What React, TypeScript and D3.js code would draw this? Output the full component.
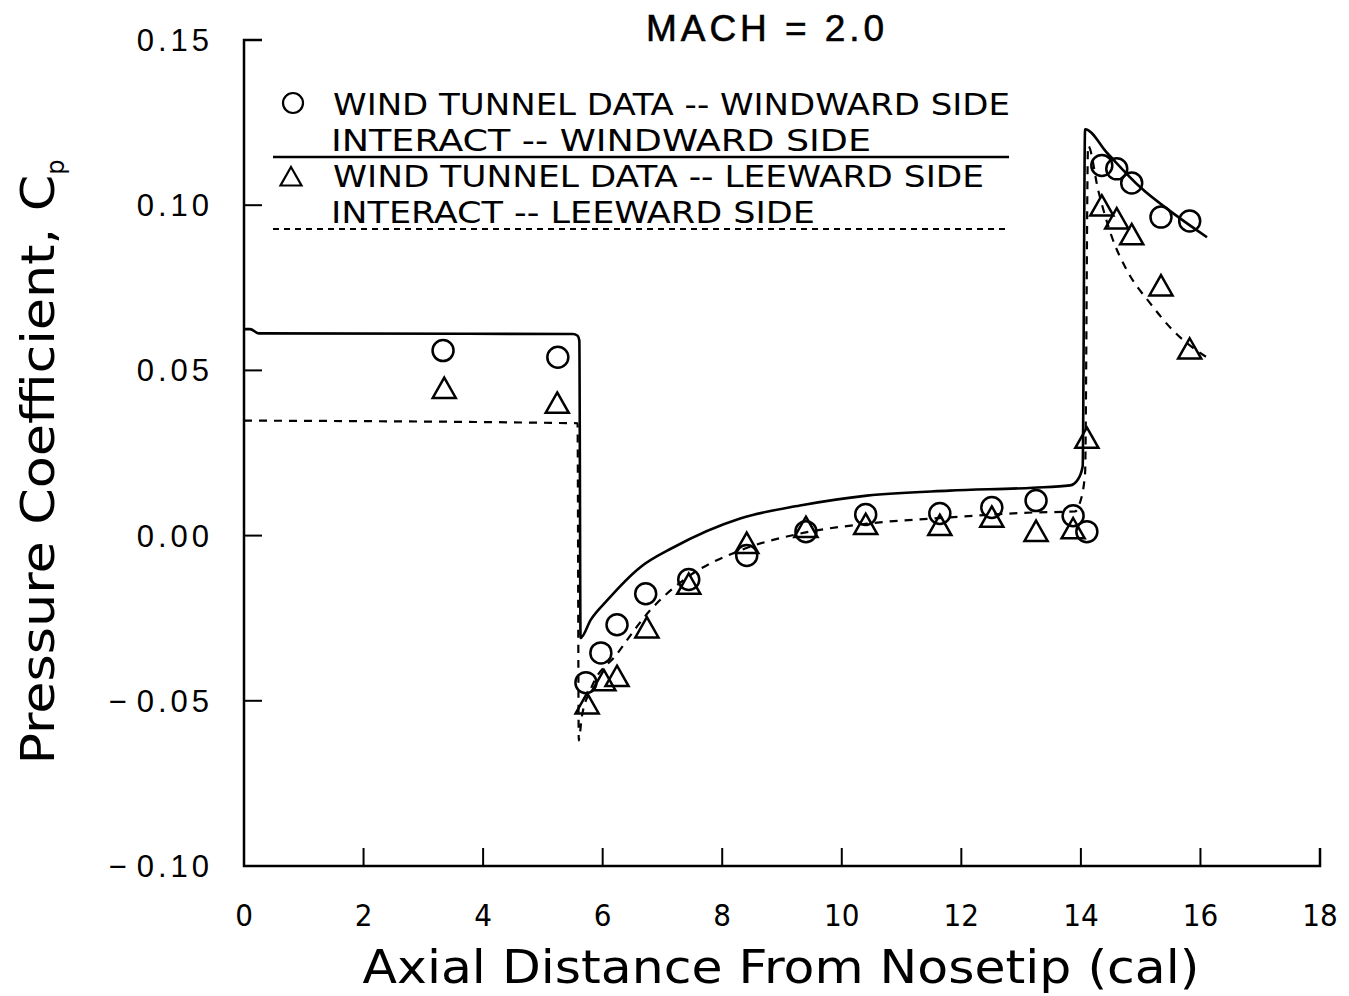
import React from "react";
import * as d3 from "d3";

const W = 1349;
const H = 996;

// Wind tunnel data
const xData = [3.33, 5.25, 5.72, 5.97, 6.24, 6.72, 7.44, 8.41, 9.40, 10.40, 11.64, 12.51, 13.25, 13.87, 14.1, 14.35, 14.6, 14.85, 15.34, 15.82];
const windwardData = [0.056, 0.054, -0.0445, -0.0355, -0.027, -0.0176, -0.0133, -0.006, 0.0012, 0.0064, 0.0067, 0.0085, 0.0106, 0.006, 0.0012, 0.112, 0.111, 0.1067, 0.0964, 0.0952];
const xLee = [3.35, 5.24, 5.74, 6.02, 6.24, 6.74, 7.44, 8.41, 9.40, 10.40, 11.64, 12.51, 13.25, 13.87, 14.1, 14.35, 14.6, 14.85, 15.34, 15.82];
const leewardData = [0.0445, 0.040, -0.051, -0.044, -0.0427, -0.028, -0.0148, -0.0024, 0.0024, 0.0033, 0.003, 0.0055, 0.0012, 0.002, 0.0294, 0.0997, 0.0958, 0.091, 0.0755, 0.0564];

// INTERACT curves
const xWindLine = [0, 0.1, 0.25, 5.5, 5.58, 5.61, 5.63, 5.8, 6.07, 6.62, 7.18, 8.3, 9.3, 10.42, 11.8, 13.2, 13.82, 13.95, 14.03, 14.07, 14.44, 14.99, 15.54, 16.11];
const yWindLine = [0.0625, 0.0625, 0.0612, 0.061, 0.0605, 0.059, -0.031, -0.0255, -0.0197, -0.0097, -0.0036, 0.0052, 0.0091, 0.0121, 0.0136, 0.0145, 0.0152, 0.017, 0.021, 0.123, 0.1158, 0.1055, 0.0976, 0.0903];
const xLeeLine = [0, 5.58, 5.6, 5.65, 5.79, 6.24, 6.79, 7.41, 8.3, 9.3, 10.42, 11.81, 13.2, 13.9, 13.98, 14.07, 14.12, 14.29, 14.52, 14.77, 15.16, 15.54, 16.11];
const yLeeLine = [0.0348, 0.034, -0.062, -0.055, -0.047, -0.0358, -0.0227, -0.0127, -0.0045, 0.0006, 0.0036, 0.0055, 0.007, 0.0073, 0.0097, 0.0188, 0.118, 0.1045, 0.0903, 0.0803, 0.0703, 0.0621, 0.0539];

const xTicks = [0, 2, 4, 6, 8, 10, 12, 14, 16, 18];
const yTicks = [-0.1, -0.05, 0, 0.05, 0.1, 0.15];
const yTickLabels = ["\u22120.10", "\u22120.05", "0.00", "0.05", "0.10", "0.15"];

const legendLabels = [
  "WIND TUNNEL DATA -- WINDWARD SIDE",
  "INTERACT -- WINDWARD SIDE",
  "WIND TUNNEL DATA -- LEEWARD SIDE",
  "INTERACT -- LEEWARD SIDE",
];

const x = d3.scaleLinear().domain([0, 18]).range([244, 1320]);
const y = d3.scaleLinear().domain([-0.1, 0.15]).range([866, 40]);

const tri = (cx: number, cy: number, s = 11) =>
  `M${cx},${cy - s} L${cx + s * 1.05},${cy + s * 0.85} L${cx - s * 1.05},${cy + s * 0.85} Z`;

export default function App() {
  const line = d3
    .line<[number, number]>()
    .x((d) => x(d[0]))
    .y((d) => y(d[1]))
    .curve(d3.curveMonotoneX);
  const windPath = line(xWindLine.map((v, i) => [v, yWindLine[i]]) as [number, number][]) || "";
  const leePath = line(xLeeLine.map((v, i) => [v, yLeeLine[i]]) as [number, number][]) || "";

  const tickFont = "'Liberation Sans', Arial, sans-serif";
  const narrowFont = "'DejaVu Sans Condensed', 'Liberation Sans Narrow', 'DejaVu Sans', sans-serif";

  return (
    <svg width={W} height={H} style={{ position: "absolute", left: 0, top: 0, background: "#fff" }}>
      <rect width={W} height={H} fill="#fff" />
      {/* Axes */}
      <path
        d={`M${x(0) + 18},${y(0.15)} H${x(0)} V${y(-0.1)} H${x(18)} V${y(-0.1) - 18}`}
        fill="none"
        stroke="#000"
        strokeWidth={2.5}
      />
      {xTicks.slice(1, -1).map((t) => (
        <line key={t} x1={x(t)} x2={x(t)} y1={y(-0.1)} y2={y(-0.1) - 18} stroke="#000" strokeWidth={2} />
      ))}
      {yTicks.slice(1, -1).map((t) => (
        <line key={t} x1={x(0)} x2={x(0) + 18} y1={y(t)} y2={y(t)} stroke="#000" strokeWidth={2} />
      ))}
      {xTicks.map((t) => (
        <text key={t} x={x(t)} y={926} textAnchor="middle" fontFamily={narrowFont} fontSize={31} fill="#000">
          {t}
        </text>
      ))}
      {yTicks.map((t, i) => {
        const lbl = yTickLabels[i];
        const neg = lbl.startsWith("\u2212");
        return (
          <text
            key={t}
            x={213}
            y={y(t) + 11}
            textAnchor="end"
            fontFamily={tickFont}
            fontSize={31}
            fill="#000"
            letterSpacing={4}
          >
            {neg ? (
              <>
                <tspan>{"\u2212"}</tspan>
                <tspan dx={6}>{lbl.slice(1)}</tspan>
              </>
            ) : (
              lbl
            )}
          </text>
        );
      })}
      {/* Axis titles */}
      <text
        x={781}
        y={983}
        textAnchor="middle"
        fontFamily={"'DejaVu Sans', sans-serif"}
        fontSize={46}
        textLength={837}
        lengthAdjust="spacingAndGlyphs"
        fill="#000"
      >
        Axial Distance From Nosetip  (cal)
      </text>
      <text
        transform={`translate(54,${462}) rotate(-90)`}
        textAnchor="middle"
        fontFamily={"'DejaVu Sans', sans-serif"}
        fontSize={46}
        fill="#000"
      >
        <tspan textLength={590} lengthAdjust="spacingAndGlyphs">Pressure Coefficient, C</tspan>
        <tspan fontSize={24} dy={10}>p</tspan>
      </text>
      <text
        x={765}
        y={41}
        textAnchor="middle"
        fontFamily={tickFont}
        fontSize={37}
        fill="#000"
        stroke="#000"
        strokeWidth={0.6}
        textLength={238}
        lengthAdjust="spacing"
      >
        MACH = 2.0
      </text>

      {/* Legend */}
      <circle cx={293} cy={103} r={10} fill="none" stroke="#000" strokeWidth={2.2} />
      <text x={333} y={115} fontFamily={narrowFont} fontSize={30} textLength={677} lengthAdjust="spacingAndGlyphs" fill="#000">
        {legendLabels[0]}
      </text>
      <text x={331} y={151} fontFamily={narrowFont} fontSize={30} textLength={540} lengthAdjust="spacingAndGlyphs" fill="#000">
        {legendLabels[1]}
      </text>
      <line x1={273} x2={1009} y1={157} y2={157} stroke="#000" strokeWidth={2.5} />
      <path d={tri(291, 177, 10)} fill="none" stroke="#000" strokeWidth={2.2} />
      <text x={333} y={187} fontFamily={narrowFont} fontSize={30} textLength={651} lengthAdjust="spacingAndGlyphs" fill="#000">
        {legendLabels[2]}
      </text>
      <text x={331} y={223} fontFamily={narrowFont} fontSize={30} textLength={484} lengthAdjust="spacingAndGlyphs" fill="#000">
        {legendLabels[3]}
      </text>
      <line x1={273} x2={1010} y1={229} y2={229} stroke="#000" strokeWidth={2} strokeDasharray="6,5" />

      {/* Curves */}
      <path d={windPath} fill="none" stroke="#000" strokeWidth={2.6} />
      <path d={leePath} fill="none" stroke="#000" strokeWidth={2.2} strokeDasharray="8,7" />

      {/* Data markers */}
      {xData.map((v, i) => (
        <circle key={"c" + i} cx={x(v)} cy={y(windwardData[i])} r={10.5} fill="none" stroke="#000" strokeWidth={2.5} />
      ))}
      {xLee.map((v, i) => (
        <path key={"t" + i} d={tri(x(v), y(leewardData[i]), 11)} fill="none" stroke="#000" strokeWidth={2.5} />
      ))}
    </svg>
  );
}
